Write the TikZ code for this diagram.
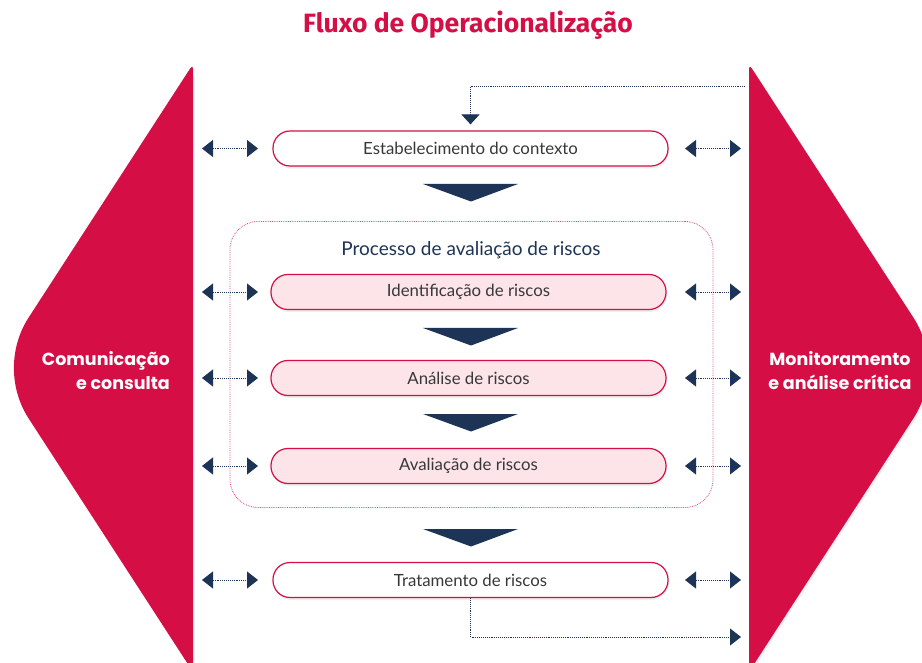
\documentclass[tikz,border=0pt]{standalone}
\usepackage{fontspec}
\newfontfamily\boxfont{Lato}
\newfontfamily\titlefont{Fira Sans}
\newfontfamily\sidefont{Poppins}
\usetikzlibrary{arrows.meta,shadows,calc}
\definecolor{crim}{HTML}{D50F45}
\definecolor{navy}{HTML}{1D3457}
\definecolor{pinkf}{HTML}{FCE4E9}
\definecolor{txt}{HTML}{383838}
\begin{document}
\begin{tikzpicture}[x=1pt,y=-1pt,
  sideshape/.style={fill=crim, drop shadow={opacity=0.12, shadow xshift=1.5pt, shadow yshift=-1.5pt}},
  basebox/.style={draw=crim, line width=1.2pt, rounded corners=17pt, minimum width=395pt, minimum height=35pt,
     inner sep=0pt, font=\boxfont\fontsize{16.8}{19}\selectfont, text=txt,
     drop shadow={opacity=0.13, shadow xshift=1pt, shadow yshift=-2.5pt}},
  wbox/.style={basebox, fill=white},
  pbox/.style={basebox, fill=pinkf},
  framebox/.style={draw=crim!75, densely dotted, line width=0.8pt, rounded corners=28pt,
     minimum width=483pt, minimum height=286pt, inner sep=0pt},
  sidelabel/.style={text=white, font=\sidefont\bfseries\fontsize{17.5}{24}\selectfont, inner sep=0pt},
  biarrow/.style={navy, densely dotted, line width=0.9pt,
     {Triangle[width=17pt,length=11pt]}-{Triangle[width=17pt,length=11pt]}},
  fbline/.style={navy, densely dotted, line width=0.9pt},
  chev/.style={fill=navy}
]
\useasboundingbox (0,0) rectangle (922,663);
\fill[white] (0,0) rectangle (922,663);

% side shapes
\begin{scope}
\clip (0,0) rectangle (922,663);
\path[sideshape] (193,76) -- (193,660) .. controls (193,672) .. (186.5,661.9)
  -- (28.6,418.4) .. controls (9,388.2) and (9,347.8) .. (28.6,317.6)
  -- (186.5,74.1) .. controls (193,64) .. (193,76) -- cycle;
\path[sideshape] (749,76) -- (749,660) .. controls (749,672) .. (755.5,661.9)
  -- (913.4,418.4) .. controls (933,388.2) and (933,347.8) .. (913.4,317.6)
  -- (755.5,74.1) .. controls (749,64) .. (749,76) -- cycle;
\end{scope}

% title
\node[text=crim, font=\titlefont\bfseries\fontsize{26.5}{30}\selectfont, inner sep=0pt] (title) at (468,25) {Fluxo de Operacionalização};

% side labels
\node[sidelabel, align=right, anchor=east] (com) at (170,371) {Comunicação\\e consulta};
\node[sidelabel, align=center] (mon) at (840,371) {Monitoramento\\e análise crítica};

% frame
\node[framebox] (frame) at (471.5,364.5) {};
\node[text=navy, font=\boxfont\fontsize{19}{22}\selectfont, inner sep=0pt] (proc) at (471,250) {Processo de avaliação de riscos};

% boxes
\node[wbox] (est) at (470.5,148.5) {Estabelecimento do contexto};
\node[pbox] (ide) at (468.5,292) {Identificação de riscos};
\node[pbox] (ana) at (468.5,378) {Análise de riscos};
\node[pbox] (ava) at (468.5,466) {Avaliação de riscos};
\node[wbox] (tra) at (470.5,580) {Tratamento de riscos};

% chevrons
\fill[chev] (423,184) -- (518,184) -- (471,201.5) -- cycle;
\fill[chev] (423,328) -- (518,328) -- (471,345.5) -- cycle;
\fill[chev] (423,414) -- (518,414) -- (471,431.5) -- cycle;
\fill[chev] (423,529) -- (518,529) -- (471,546.5) -- cycle;

% arrow end coordinates
\coordinate (L1) at (202,0);
\coordinate (L2) at (258,0);
\coordinate (R1) at (685,0);
\coordinate (R2) at (741,0);
\foreach \b in {est,ide,ana,ava,tra}{
  \draw[biarrow] (L1 |- \b) -- (L2 |- \b);
  \draw[biarrow] (R1 |- \b) -- (R2 |- \b);
}

% feedback loops
\coordinate (fbA) at (745,86);
\coordinate (fbE) at (741,637);
\draw[fbline, -{Triangle[width=18pt,length=10pt]}] (fbA) -| ([yshift=6pt]est.north);
\draw[fbline, -{Triangle[width=17pt,length=11pt]}] (tra.south) |- (fbE);
\end{tikzpicture}
\end{document}
